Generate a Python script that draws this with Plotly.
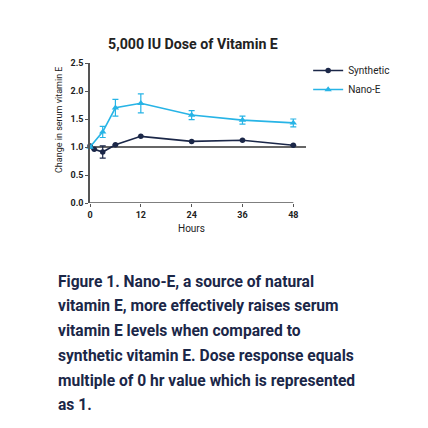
import plotly.graph_objects as go

hours_syn = [0, 1, 3, 6, 12, 24, 36, 48]
synthetic = [1.02, 0.96, 0.91, 1.04, 1.19, 1.10, 1.12, 1.03]
synthetic_err = [0.0, 0.0, 0.11, 0.0, 0.0, 0.0, 0.0, 0.0]

hours_nano = [0, 3, 6, 12, 24, 36, 48]
nano = [1.0, 1.27, 1.70, 1.78, 1.57, 1.48, 1.43]
nano_err = [0.0, 0.10, 0.15, 0.17, 0.08, 0.07, 0.07]

x_ticks = [0, 12, 24, 36, 48]
y_ticks = [0, 0.5, 1.0, 1.5, 2.0, 2.5]

title = "5,000 IU Dose of Vitamin E"
y_title = "Change in serum vitamin E"
x_title = "Hours"
caption = [
    "Figure 1. Nano-E, a source of natural",
    "vitamin E, more effectively raises serum",
    "vitamin E levels when compared to",
    "synthetic vitamin E. Dose response equals",
    "multiple of 0 hr value which is represented",
    "as 1.",
]

NAVY = "#1b2748"
BLUE = "#27b4e6"
FONT = "Roboto"

fig = go.Figure()
fig.add_trace(go.Scatter(
    x=hours_syn, y=synthetic, name="Synthetic", mode="lines+markers",
    line=dict(color=NAVY, width=1.6),
    marker=dict(symbol="circle", size=5.5, color=NAVY),
    error_y=dict(type="data", array=synthetic_err, color=NAVY, thickness=1.2, width=3),
    cliponaxis=False,
))
fig.add_trace(go.Scatter(
    x=hours_nano, y=nano, name="Nano-E", mode="lines+markers",
    line=dict(color=BLUE, width=1.6),
    marker=dict(symbol="triangle-up", size=6.5, color=BLUE),
    error_y=dict(type="data", array=nano_err, color=BLUE, thickness=1.2, width=3),
    cliponaxis=False,
))

# baseline reference at 1.0 and x-axis line up to last tick
fig.add_shape(type="line", xref="x", yref="y", x0=0, x1=51, y0=1, y1=1,
              line=dict(color="#333333", width=1.3), layer="below")
fig.add_shape(type="line", xref="x", yref="y", x0=0, x1=x_ticks[-1], y0=0, y1=0,
              line=dict(color="#555555", width=1.5), layer="below")

fig.update_layout(
    width=428, height=428,
    margin=dict(l=90, r=122, t=63, b=225),
    paper_bgcolor="white", plot_bgcolor="white",
    showlegend=True,
    legend=dict(x=1.01, y=1.05, xanchor="left", yanchor="top",
                font=dict(family=FONT, size=10, color="#222"),
                bgcolor="rgba(0,0,0,0)", tracegroupgap=0, itemwidth=30),
    font=dict(family=FONT, color="#222"),
)
fig.update_xaxes(range=[0, 51], tickvals=x_ticks, showgrid=False, zeroline=False,
                 showline=False, ticks="outside", ticklen=3, tickcolor="#555",
                 tickfont=dict(family=FONT, size=9, color="#222", weight="bold"))
fig.update_yaxes(range=[0, 2.5], tickvals=y_ticks, tickformat=".1f", showgrid=False,
                 zeroline=False, showline=True, linecolor="#555", linewidth=1.5,
                 ticks="outside", ticklen=3, tickcolor="#555",
                 tickfont=dict(family=FONT, size=9, color="#222", weight="bold"))

fig.add_annotation(text="<b>" + title + "</b>", xref="paper", yref="paper",
                   x=(193 - 90) / 216, y=(203 - 44) / 140, xanchor="center", yanchor="middle",
                   showarrow=False, font=dict(family=FONT, size=14.2, color="#222"))
fig.add_annotation(text=y_title, xref="paper", yref="paper", textangle=-90,
                   x=(59 - 90) / 216, y=(203 - 120) / 140, xanchor="center", yanchor="middle",
                   showarrow=False, font=dict(family=FONT, size=9, color="#222"))
fig.add_annotation(text=x_title, xref="paper", yref="paper",
                   x=(191 - 90) / 216, y=(203 - 228) / 140, xanchor="center", yanchor="middle",
                   showarrow=False, font=dict(family=FONT, size=10, color="#222"))

for i, line in enumerate(caption):
    py = 281.5 + 24.8 * i
    fig.add_annotation(text="<b>" + line + "</b>", xref="paper", yref="paper",
                       x=(56 - 90) / 216, y=(203 - py) / 140, xanchor="left", yanchor="middle",
                       showarrow=False, font=dict(family=FONT, size=15.6, color=NAVY))

fig.write_html("out.html")
